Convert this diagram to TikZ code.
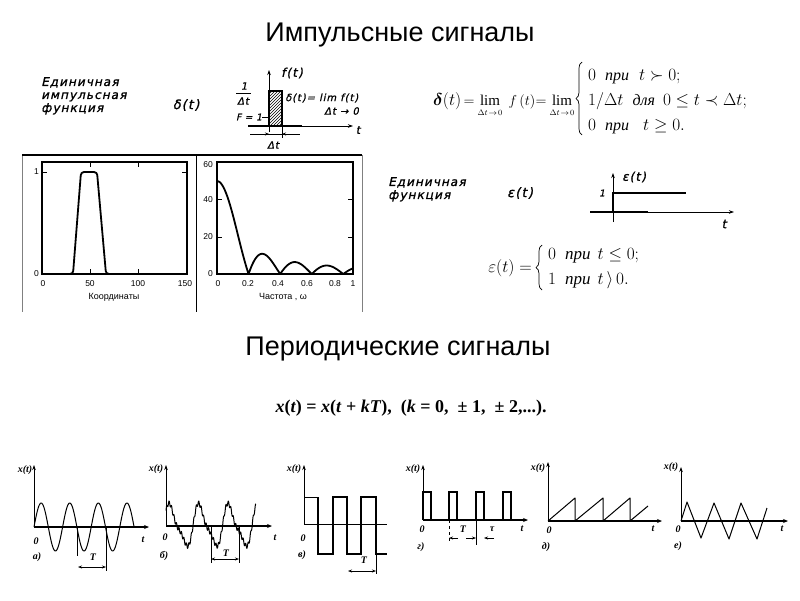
\documentclass[tikz,border=0pt]{standalone}
\usepackage{amsmath}
\usepackage{fontspec}
\setmainfont{Liberation Serif}
\newfontfamily\titlefont{Liberation Sans}
\newfontfamily\hand[LetterSpace=9,FakeBold=1.2,FakeSlant=0.22]{DejaVu Sans}
\usetikzlibrary{arrows.meta,patterns,decorations.pathreplacing}
\tikzset{
  ttl/.style={font=\titlefont\fontsize{27}{30}\selectfont, inner sep=0pt},
  hw/.style={font=\hand\fontsize{12}{13}\selectfont, align=left, inner sep=0pt},
  hwb/.style={font=\hand\fontsize{13}{14}\selectfont, inner sep=0pt},
  hws/.style={font=\hand\fontsize{10}{12}\selectfont, inner sep=0pt},
  axa/.style={line width=0.8pt,-{Stealth[length=5pt,width=3.5pt]}},
  axt/.style={line width=1.6pt,-{Stealth[length=5pt,width=4pt]}},
  curve/.style={line width=1.8pt, line join=round},
  wave/.style={line width=1pt, line join=round},
  sq/.style={line width=1.5pt, line join=miter},
  lbl/.style={font=\itshape\bfseries\fontsize{10}{11}\selectfont, inner sep=0.5pt},
  tk/.style={font=\titlefont\fontsize{8.5}{10}\selectfont, inner sep=1pt},
  dim/.style={line width=0.6pt,{Stealth[length=4pt,width=3pt]}-{Stealth[length=4pt,width=3pt]}},
  fm/.style={font=\fontsize{16}{18}\selectfont, inner sep=0pt},
  fl/.style={font=\fontsize{15}{17}\selectfont, inner sep=0pt},
  fsub/.style={font=\fontsize{8}{9}\selectfont, inner sep=0pt},
  fe/.style={font=\fontsize{17}{19}\selectfont, inner sep=0pt, anchor=west},
  brc/.style={line width=0.7pt, decorate, decoration={brace, amplitude=6pt}},
}
\begin{document}
\begin{tikzpicture}[x=1pt,y=-1pt]
\useasboundingbox (0,0) rectangle (800,600);
\fill[white] (0,0) rectangle (800,600);

% titles
\node[ttl] (t1) at (400,35) {Импульсные сигналы};
\node[ttl] (t2) at (398,349) {Периодические сигналы};

% unit impulse label
\node[hw, anchor=north west] (lab1) at (41,77) {Единичная\\импульсная\\функция};
\node[hwb] (d1) at (186,105) {δ(t)};

% delta sketch
\fill[pattern=north east lines] (269,91) rectangle (282,126);
\draw[line width=1.2pt] (269,126) -- (269,91) -- (282,91) -- (282,126);
\draw[axa] (269,132) -- (269,70);
\draw[line width=1.6pt] (248,126) -- (302,126);
\draw[axa] (302,126) -- (353,126);
\node[hwb, font=\hand\fontsize{12}{13}\selectfont] (ft) at (292,73) {f(t)};
\node[hws, font=\hand\fontsize{11}{12}\selectfont] (tt1) at (358,130) {t};
\node[hws] (fr1) at (244,86) {1};
\node[hws] (fr2) at (243,101) {Δt};
\draw[line width=1pt] (236,93) -- (251,93);
\node[hws, font=\hand\fontsize{9}{10}\selectfont] (F1) at (249,117) {F = 1};
\draw[line width=0.8pt] (F1.east) -- (269,117);
\draw[line width=0.6pt] (282,126) -- (282,138);
\draw[line width=0.6pt] (250,134) -- (300,134);
\draw[line width=0.6pt,-{Stealth[length=4pt,width=3pt]}] (255,134) -- (269,134);
\draw[line width=0.6pt,-{Stealth[length=4pt,width=3pt]}] (296,134) -- (282,134);
\node[hws] (dt) at (273,145) {Δt};
\node[hws, anchor=west] (dl) at (285,98) {δ(t)= lim f(t)};
\node[hws, anchor=east] (dl2) at (359,111) {Δt → 0};

% delta formula
\node[fm, anchor=base west] (dfa) at (433,105) {$\boldsymbol{\delta}(t)$};
\node[fl, anchor=base] (dfe1) at (469,105) {$=$};
\node[fl, anchor=base] (dlim1) at (490,105) {$\mathrm{lim}$};
\node[fsub] (dsub1) at (490,113) {$\Delta t\!\to\!0$};
\node[fl, anchor=base] (dff) at (522,105) {$f\,(t)$};
\node[fl, anchor=base] (dfe2) at (541,105) {$=$};
\node[fl, anchor=base] (dlim2) at (562,105) {$\mathrm{lim}$};
\node[fsub] (dsub2) at (562,113) {$\Delta t\!\to\!0$};
\draw[brc] (582,135) -- (582,62);
\node[fm, anchor=base west] (dr1) at (588,80) {$0\hspace{9pt}\text{\itshape при}\hspace{10pt}t\succ 0;$};
\node[fm, anchor=base west] (dr2) at (588,105) {$1/\Delta t\hspace{9pt}\text{\itshape для}\hspace{8pt}0\le t\prec\Delta t;$};
\node[fm, anchor=base west] (dr3) at (588,130) {$0\hspace{9pt}\text{\itshape при}\hspace{14pt}t\ge 0.$};

% plots frame
\draw[line width=0.5pt, gray] (22,155) -- (22,312);
\draw[line width=0.5pt, gray] (362,155) -- (362,312);
\draw[line width=0.7pt] (196,155) -- (196,312);
\draw[line width=1.5pt] (22,155) -- (362,155);

% left plot
\draw[line width=1.2pt] (42,162) rectangle (187,274);
\foreach \xx in {90,138} {\draw[line width=1pt] (\xx,162) -- (\xx,167); \draw[line width=1pt] (\xx,274) -- (\xx,269);}
\draw[line width=1pt] (42,172) -- (47,172);
\draw[line width=1pt] (187,172) -- (182,172);
\draw[curve, rounded corners=3pt] (42,274) -- (73,274) -- (81,172) -- (97,172) -- (106,274) -- (187,274);
\node[tk, anchor=east] (ly1) at (40,172) {1};
\node[tk, anchor=east] (ly0) at (40,274) {0};
\node[tk] (lx0) at (43,284) {0};
\node[tk] (lx50) at (90,284) {50};
\node[tk] (lx100) at (138,284) {100};
\node[tk] (lx150) at (185,284) {150};
\node[tk, font=\titlefont\fontsize{9}{10}\selectfont] (lxl) at (114,297) {Координаты};

% right plot
\draw[line width=1.2pt] (217,162) rectangle (353,274);
\foreach \yy in {199,237} {\draw[line width=1pt] (217,\yy) -- (222,\yy); \draw[line width=1pt] (353,\yy) -- (348,\yy);}
\draw[curve] plot[domain=0.002:1, samples=200, smooth] ({217+136*\x},{274-93*abs(sin(775*\x))/(13.53*\x)});
\node[tk, anchor=east] (ry60) at (214,165) {60};
\node[tk, anchor=east] (ry40) at (214,200) {40};
\node[tk, anchor=east] (ry20) at (214,237) {20};
\node[tk, anchor=east] (ry0) at (214,274) {0};
\node[tk] (rx0) at (218,284) {0};
\node[tk] (rx2) at (248,284) {0.2};
\node[tk] (rx4) at (278,284) {0.4};
\node[tk] (rx6) at (307,284) {0.6};
\node[tk] (rx8) at (335,284) {0.8};
\node[tk] (rx1) at (353,284) {1};
\node[tk, font=\titlefont\fontsize{9}{10}\selectfont] (rxl) at (283,297) {Частота , ω};

% unit step
\node[hw, anchor=north west] (lab2) at (388,177) {Единичная\\функция};
\node[hwb] (e1) at (520,193) {ε(t)};
\draw[axa] (613,222) -- (613,173);
\draw[line width=2.2pt] (613,212) -- (613,193) -- (686,193);
\draw[line width=1.6pt] (590,212) -- (648,212);
\draw[axa] (648,212) -- (734,212);
\node[hwb, font=\hand\fontsize{12}{13}\selectfont] (et) at (634,177) {ε(t)};
\node[hws, font=\hand\fontsize{9}{10}\selectfont] (e1l) at (602,193) {1};
\node[hws, font=\hand\fontsize{12}{13}\selectfont] (tt2) at (724,224) {t};

% epsilon formula
\node[fe, anchor=east] (efl) at (532,268) {$\varepsilon(t)=$};
\draw[brc] (542,290) -- (542,245);
\node[fe] (er1) at (548,256) {$0\hspace{9pt}\text{\itshape при}\hspace{7pt}t\le 0;$};
\node[fe] (er2) at (548,280) {$1\hspace{9pt}\text{\itshape при}\hspace{7pt}t\,\rangle\,0.$};

% periodic formula
\node[font=\bfseries\fontsize{18}{20}\selectfont, inner sep=0pt] (pf) at (411,408) {\textit{x}(\textit{t}) = \textit{x}(\textit{t} + \textit{kT}),\ \ (\textit{k} = 0,\ \ ± 1,\ \ ± 2,...).};

% ---- wave a
\draw[axa] (34,527) -- (34,465);
\draw[axt] (34,527) -- (149,527);
\draw[wave] plot[domain=0:3.5, samples=140, smooth] ({34+28.6*\x},{527-24*sin(360*\x)});
\draw[line width=0.6pt] (77,527) -- (77,556);
\draw[line width=0.6pt] (106,527) -- (106,571);
\draw[dim] (78,567) -- (106,567);
\node[lbl, anchor=east] (ax) at (33,470) {x(t)};
\node[lbl] (a0) at (36,541) {0};
\node[lbl] (at) at (143,540) {t};
\node[lbl] (aa) at (37,557) {а)};
\node[lbl] (aT) at (93,557) {T};

% ---- wave b
\draw[axa] (166,526) -- (166,465);
\draw[axt] (166,526) -- (272,526);
\draw[wave] plot[domain=0:3.05, samples=300] ({166+29.5*\x},{526-19*(sin(360*\x+35)+0.3*sin(720*\x+50)+0.12*sin(4300*\x))});
\draw[line width=0.6pt] (211,526) -- (211,563);
\draw[line width=0.6pt] (239,526) -- (239,563);
\draw[dim] (211,559) -- (239,559);
\node[lbl, anchor=east] (bx) at (164,469) {x(t)};
\node[lbl] (b0) at (165,537) {0};
\node[lbl] (bt) at (275,538) {t};
\node[lbl] (bb) at (164,556) {б)};
\node[lbl] (bT) at (226,553) {T};

% ---- wave v
\draw[axa] (304,524) -- (304,465);
\draw[line width=0.6pt] (304,524) -- (387,524);
\draw[line width=0.8pt] (304,524) -- (304,497) -- (318,497);
\draw[sq] (318,497) -- (318,554) -- (333,554) -- (333,497) -- (347,497) -- (347,554) -- (361,554) -- (361,497) -- (376,497) -- (376,554) -- (387,554);
\draw[line width=0.6pt] (376,554) -- (376,574);
\draw[dim] (348,571) -- (376,571);
\node[lbl, anchor=east] (vx) at (302,469) {x(t)};
\node[lbl] (v0) at (303,538) {0};
\node[lbl] (vv) at (302,555) {в)};
\node[lbl] (vT) at (364,560) {T};

% ---- wave g
\draw[axa] (423,520) -- (423,465);
\draw[axt] (423,520) -- (528,520);
\foreach \p in {423,449,476,503} {\draw[sq] (\p,520) -- (\p,492) -- (\p+8,492) -- (\p+8,520);}
\draw[line width=0.6pt, dashed] (449,520) -- (449,542);
\draw[line width=0.6pt] (476,492) -- (476,545);
\draw[line width=0.6pt,-{Stealth[length=4pt,width=3pt]}] (458,538) -- (449,538);
\draw[line width=0.6pt,-{Stealth[length=4pt,width=3pt]}] (466,538) -- (476,538);
\draw[line width=0.6pt,-{Stealth[length=4pt,width=3pt]}] (494,538) -- (484,538);
\node[lbl, anchor=east] (gx) at (421,469) {x(t)};
\node[lbl] (g0) at (422,529) {0};
\node[lbl] (gg) at (421,547) {г)};
\node[lbl] (gT) at (463,529) {T};
\node[lbl] (gtau) at (492,529) {τ};
\node[lbl] (gt) at (522,529) {t};

% ---- wave d
\draw[axa] (548,521) -- (548,462);
\draw[axt] (548,521) -- (662,521);
\draw[wave] (548,521) -- (575,498) -- (575,521) -- (603,498) -- (603,521) -- (630,498) -- (630,521) -- (648,506);
\node[lbl, anchor=east] (dx) at (546,468) {x(t)};
\node[lbl] (d0) at (549,530) {0};
\node[lbl] (dd) at (546,547) {д)};
\node[lbl] (dtl) at (653,529) {t};

% ---- wave e
\draw[axa] (681,521) -- (681,467);
\draw[axt] (681,521) -- (788,521);
\draw[wave] (681,521) -- (687,502) -- (701,538) -- (714,503) -- (729,539) -- (741,503) -- (757,539) -- (767,508);
\node[lbl, anchor=east] (ex) at (679,467) {x(t)};
\node[lbl] (e0) at (678,529) {0};
\node[lbl] (ee) at (678,546) {е)};
\node[lbl] (etl) at (782,529) {t};
\end{tikzpicture}
\end{document}
